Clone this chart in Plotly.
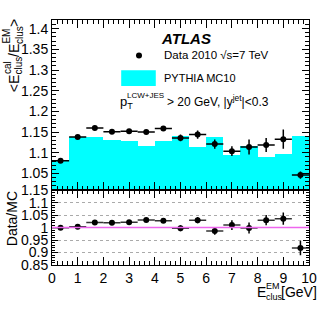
import plotly.graph_objects as go

# ---- data ----
bin_centers = [0.333, 1.0, 1.667, 2.333, 3.0, 3.667, 4.333, 5.0, 5.667, 6.333, 7.0, 7.667, 8.333, 9.0, 9.667]
bin_halfwidth = [0.333] * 15
data_vals = [1.081, 1.138, 1.160, 1.151, 1.152, 1.150, 1.159, 1.136, 1.144, 1.121, 1.104, 1.114, 1.119, 1.133, 1.046]
data_err = [0.003, 0.003, 0.003, 0.003, 0.003, 0.004, 0.004, 0.008, 0.010, 0.011, 0.012, 0.018, 0.017, 0.023, 0.009]
mc_vals = [1.082, 1.139, 1.139, 1.131, 1.129, 1.117, 1.129, 1.141, 1.114, 1.138, 1.094, 1.116, 1.090, 1.096, 1.141]
ratio_vals = [0.999, 1.003, 1.021, 1.019, 1.022, 1.031, 1.028, 0.997, 1.030, 0.986, 1.010, 0.998, 1.030, 1.036, 0.918]
ratio_err = [0.003, 0.003, 0.003, 0.003, 0.003, 0.004, 0.004, 0.012, 0.013, 0.015, 0.020, 0.022, 0.021, 0.025, 0.029]

FONT = "Liberation Sans, Arial, sans-serif"
W, H = 329, 316
L, R, T, B = 52, 17, 16, 51
PW, PH = W - L - R, H - T - B
split = 189  # pixel y of panel boundary


def px(x):
    return (x - L) / PW


def py(y):
    return (H - B - y) / PH


fig = go.Figure()

fig.add_trace(go.Bar(
    x=bin_centers, y=mc_vals, width=[2 * h for h in bin_halfwidth],
    marker=dict(color="#00FFFF", line=dict(width=0)),
    xaxis="x", yaxis="y", showlegend=False,
))
fig.add_trace(go.Scatter(
    x=bin_centers, y=data_vals, mode="markers",
    marker=dict(color="black", size=6),
    error_x=dict(type="data", array=bin_halfwidth, width=0, thickness=1.5, color="black"),
    error_y=dict(type="data", array=data_err, width=0, thickness=1.5, color="black"),
    xaxis="x", yaxis="y", showlegend=False,
))
fig.add_trace(go.Scatter(
    x=bin_centers, y=ratio_vals, mode="markers",
    marker=dict(color="black", size=6),
    error_x=dict(type="data", array=bin_halfwidth, width=0, thickness=1.5, color="#333333"),
    error_y=dict(type="data", array=ratio_err, width=0, thickness=1.5, color="black"),
    xaxis="x2", yaxis="y2", showlegend=False,
))

split_frac = py(split)

axis_common = dict(
    showline=True, linecolor="black", linewidth=1, mirror="ticks",
    ticks="inside", tickcolor="black", tickfont=dict(family=FONT, size=14, color="black"),
    zeroline=False,
)

fig.update_layout(
    width=W, height=H,
    margin=dict(l=L, r=R, t=T, b=B),
    paper_bgcolor="white", plot_bgcolor="white",
    bargap=0,
    font=dict(family=FONT, color="black"),
    xaxis=dict(**axis_common, domain=[0, 1], anchor="y", range=[0, 10], dtick=1, ticklen=8,
               showticklabels=False, showgrid=False,
               minor=dict(ticks="inside", dtick=0.2, ticklen=4, tickcolor="black", showgrid=False)),
    yaxis=dict(**axis_common, domain=[split_frac, 1], anchor="x", range=[1.0095, 1.421], dtick=0.05,
               ticklen=7, showgrid=False,
               minor=dict(ticks="inside", dtick=0.01, ticklen=4, tickcolor="black", showgrid=False)),
    xaxis2=dict(**axis_common, domain=[0, 1], anchor="y2", range=[0, 10], dtick=1, ticklen=8,
                showgrid=False,
                minor=dict(ticks="inside", dtick=0.2, ticklen=4, tickcolor="black", showgrid=False)),
    yaxis2=dict(**axis_common, domain=[0, split_frac], anchor="x2", range=[0.85, 1.15], dtick=0.05,
                ticklen=6, showgrid=True, gridcolor="#aaaaaa", griddash="dot", gridwidth=1,
                minor=dict(ticks="inside", dtick=0.01, ticklen=3, tickcolor="black", showgrid=False)),
)

# reference line at ratio 1
fig.add_shape(type="line", xref="x2 domain", yref="y2", x0=0, x1=1, y0=1, y1=1,
              line=dict(color="#EE66EE", width=1.5))

ann = []


def add(xp, yp, text, size, xanchor="left", yanchor="middle", angle=0):
    ann.append(dict(x=px(xp), y=py(yp), text=text, xanchor=xanchor, yanchor=yanchor,
                    textangle=angle, font=dict(size=size)))


add(160, 35, "<b><i>ATLAS</i></b>", 15)
add(163, 52, "Data 2010 √s=7 TeV", 11.5)
add(163, 75, "PYTHIA MC10", 11)
add(119, 100, "p<sub>T</sub>", 13)
add(126, 93, "LCW+JES", 8)
add(166, 98, "&gt; 20 GeV, |y<sup>jet</sup>|&lt;0.3", 12)

# y-axis title of upper panel, built from stacked pieces (rotated)
add(13, 91, "&lt;E", 14, xanchor="center", yanchor="bottom", angle=-90)
add(18.5, 73.5, "clus", 10, xanchor="center", yanchor="bottom", angle=-90)
add(6.5, 73.5, "cal", 10, xanchor="center", yanchor="bottom", angle=-90)
add(13, 55.7, "/E", 14, xanchor="center", yanchor="bottom", angle=-90)
add(18.5, 42.5, "clus", 10, xanchor="center", yanchor="bottom", angle=-90)
add(6.5, 42.5, "EM", 10, xanchor="center", yanchor="bottom", angle=-90)
add(13, 24.7, "&gt;", 14, xanchor="center", yanchor="bottom", angle=-90)

add(11, 218, "Data/MC", 14, xanchor="center", angle=-90)

# x-axis title, stacked pieces
add(257, 292, "E", 14)
add(266, 298, "clus", 9)
add(266, 286.5, "EM", 9)
add(322, 292, "[GeV]", 14, xanchor="right")

for a in ann:
    a.update(xref="paper", yref="paper", showarrow=False)
    a["font"].update(family=FONT, color="black")
fig.update_layout(annotations=ann)

# legend marker and box
fig.add_shape(type="circle", xref="paper", yref="paper", xsizemode="pixel", ysizemode="pixel",
              xanchor=px(140), yanchor=py(52), x0=-3, x1=3, y0=-3, y1=3,
              fillcolor="black", line=dict(color="black", width=0))
fig.add_shape(type="rect", xref="paper", yref="paper", x0=px(122), x1=px(157), y0=py(83), y1=py(67),
              fillcolor="#00FFFF", line=dict(width=0))

fig.write_html("out.html", config={"displayModeBar": False},
               post_script="document.body.style.margin='0';document.body.style.padding='0';")
